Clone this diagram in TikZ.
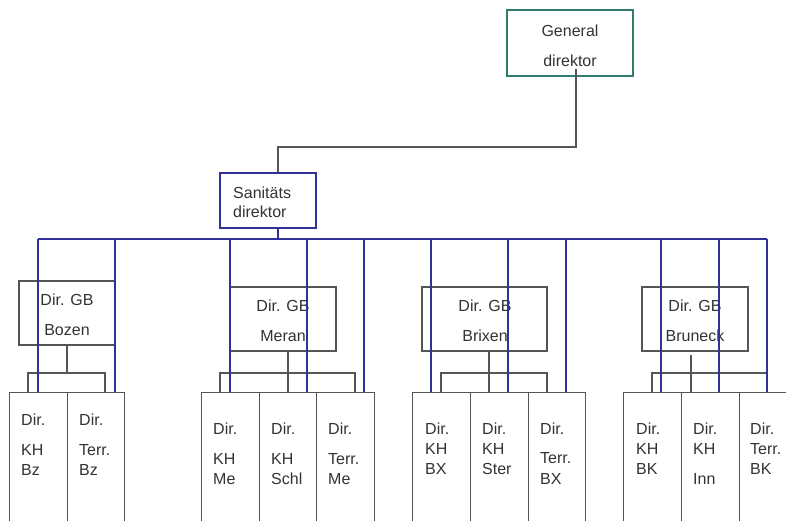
\documentclass[tikz,border=0pt]{standalone}
\usepackage{fontspec}
\setmainfont{Liberation Sans}
\definecolor{tealc}{RGB}{46,125,108}
\definecolor{bluec}{RGB}{48,48,150}
\definecolor{grayc}{RGB}{85,85,85}
\definecolor{txtc}{RGB}{51,51,51}
\tikzset{
  gbox/.style={draw=grayc,line width=1.2pt,inner sep=0pt,minimum height=64pt},
  subbox/.style={draw=grayc,line width=1.2pt,inner sep=0pt,anchor=north west,minimum height=140pt},
  gline/.style={draw=grayc,line width=1.2pt},
  bline/.style={draw=bluec,line width=2pt},
  txt/.style={inner sep=0pt,text=txtc,font=\fontsize{16}{19}\selectfont},
}
\newcommand\TL[4]{\node[txt,anchor=base west] (#1) at (#2,#3) {#4};}
\newcommand\TC[4]{\node[txt,anchor=base] (#1) at (#2,#3) {#4};}
\begin{document}
\begin{tikzpicture}[x=1pt,y=-1pt]
\clip (0,0) rectangle (786,520);
\fill[white] (0,0) rectangle (786,520);
% top boxes
\node[draw=tealc,line width=2pt,inner sep=0pt,minimum width=126pt,minimum height=66pt] (gen) at (570,43) {};
\node[draw=bluec,line width=2pt,inner sep=0pt,minimum width=96pt,minimum height=55pt] (san) at (268,200.5) {};
% GB boxes
\node[gbox,minimum width=96pt] (gbBz) at (67,313) {};
\node[gbox,minimum width=106pt] (gbMe) at (283,319) {};
\node[gbox,minimum width=125pt] (gbBx) at (484.5,319) {};
\node[gbox,minimum width=106pt] (gbBk) at (695,319) {};
% sub boxes
\node[subbox,minimum width=58pt] (bzK) at (9,392) {};
\node[subbox,minimum width=57pt] (bzT) at (67,392) {};
\node[subbox,minimum width=58pt] (meK) at (201,392) {};
\node[subbox,minimum width=57pt] (meS) at (259,392) {};
\node[subbox,minimum width=58pt] (meT) at (316,392) {};
\node[subbox,minimum width=58pt] (bxK) at (412,392) {};
\node[subbox,minimum width=58pt] (bxS) at (470,392) {};
\node[subbox,minimum width=57pt] (bxT) at (528,392) {};
\node[subbox,minimum width=58pt] (bkK) at (623,392) {};
\node[subbox,minimum width=58pt] (bkI) at (681,392) {};
\node[subbox,minimum width=58pt] (bkT) at (739,392) {};
% gray connectors
\draw[gline] ([xshift=6pt,yshift=8pt]gen.south) -- ++(0,78) -| ([xshift=10pt]san.north);
\draw[gline] (gbBz.south) -- ++(0,28);
\draw[gline] ([xshift=19pt]bzK.north west) -- ++(0,-19) -| ([xshift=38pt]bzT.north west);
\draw[gline] ([xshift=5pt]gbMe.south) -- ([xshift=5pt]gbMe.south |- meS.north);
\draw[gline] ([xshift=19pt]meK.north west) -- ++(0,-19) -| ([xshift=39pt]meT.north west);
\draw[gline] ([xshift=4.5pt]gbBx.south) -- ([xshift=4.5pt]gbBx.south |- bxS.north);
\draw[gline] ([xshift=29pt]bxK.north west) -- ++(0,-19) -| ([xshift=19pt]bxT.north west);
\draw[gline] ([xshift=-4pt,yshift=-3pt]gbBk.south) -- ([xshift=-4pt]gbBk.south |- bkI.north);
\draw[gline] ([xshift=29pt]bkK.north west) -- ++(0,-19) -| ([xshift=28pt]bkT.north west);
% texts
\TC{t1}{570}{36}{General}
\TC{t2}{570}{66}{direktor}
\TL{t3}{233}{198}{Sanitäts}
\TL{t4}{233}{217}{direktor}
\TC{t5}{67}{305.5}{Dir. GB}
\TC{t6}{67}{335}{Bozen}
\TC{t7}{283}{311.5}{Dir. GB}
\TC{t8}{283}{341}{Meran}
\TC{t9}{485}{311.5}{Dir. GB}
\TC{t10}{485}{341}{Brixen}
\TC{t11}{695}{311.5}{Dir. GB}
\TC{t12}{695}{341}{Bruneck}
% Bozen
\TL{a1}{21}{425.5}{Dir.}\TL{a2}{21}{455}{KH}\TL{a3}{21}{475}{Bz}
\TL{a4}{79}{425.5}{Dir.}\TL{a5}{79}{455}{Terr.}\TL{a6}{79}{475}{Bz}
% Meran
\TL{b1}{213}{434}{Dir.}\TL{b2}{213}{464}{KH}\TL{b3}{213}{484}{Me}
\TL{b4}{271}{434}{Dir.}\TL{b5}{271}{464}{KH}\TL{b6}{271}{484}{Schl}
\TL{b7}{328}{434}{Dir.}\TL{b8}{328}{464}{Terr.}\TL{b9}{328}{484}{Me}
% Brixen
\TL{c1}{425}{434}{Dir.}\TL{c2}{425}{454}{KH}\TL{c3}{425}{474}{BX}
\TL{c4}{482}{434}{Dir.}\TL{c5}{482}{454}{KH}\TL{c6}{482}{474}{Ster}
\TL{c7}{540}{434}{Dir.}\TL{c8}{540}{463}{Terr.}\TL{c9}{540}{484}{BX}
% Bruneck
\TL{d1}{636}{434}{Dir.}\TL{d2}{636}{454}{KH}\TL{d3}{636}{474}{BK}
\TL{d4}{693}{434}{Dir.}\TL{d5}{693}{454}{KH}\TL{d6}{693}{484}{Inn}
\TL{d7}{750}{434}{Dir.}\TL{d8}{750}{454}{Terr.}\TL{d9}{750}{474}{BK}
% blue bus
\coordinate (busL) at (38,239);
\coordinate (busR) at (767,239);
\draw[draw=bluec,line width=1.2pt] ([xshift=10pt]san.south) -- ([xshift=10pt]san.south |- busL);
\draw[bline] (busL) -- (busR);
\draw[bline] ([xshift=29pt]bzK.north west) -- ([xshift=29pt]bzK.north west |- busL);
\draw[bline] ([xshift=48pt]bzT.north west) -- ([xshift=48pt]bzT.north west |- busL);
\draw[bline] ([xshift=29pt]meK.north west) -- ([xshift=29pt]meK.north west |- busL);
\draw[bline] ([xshift=48pt]meS.north west) -- ([xshift=48pt]meS.north west |- busL);
\draw[bline] ([xshift=48pt]meT.north west) -- ([xshift=48pt]meT.north west |- busL);
\draw[bline] ([xshift=19pt]bxK.north west) -- ([xshift=19pt]bxK.north west |- busL);
\draw[bline] ([xshift=38pt]bxS.north west) -- ([xshift=38pt]bxS.north west |- busL);
\draw[bline] ([xshift=38pt]bxT.north west) -- ([xshift=38pt]bxT.north west |- busL);
\draw[bline] ([xshift=38pt]bkK.north west) -- ([xshift=38pt]bkK.north west |- busL);
\draw[bline] ([xshift=38pt]bkI.north west) -- ([xshift=38pt]bkI.north west |- busL);
\draw[bline] ([xshift=28pt]bkT.north west) -- ([xshift=28pt]bkT.north west |- busL);
\end{tikzpicture}
\end{document}
